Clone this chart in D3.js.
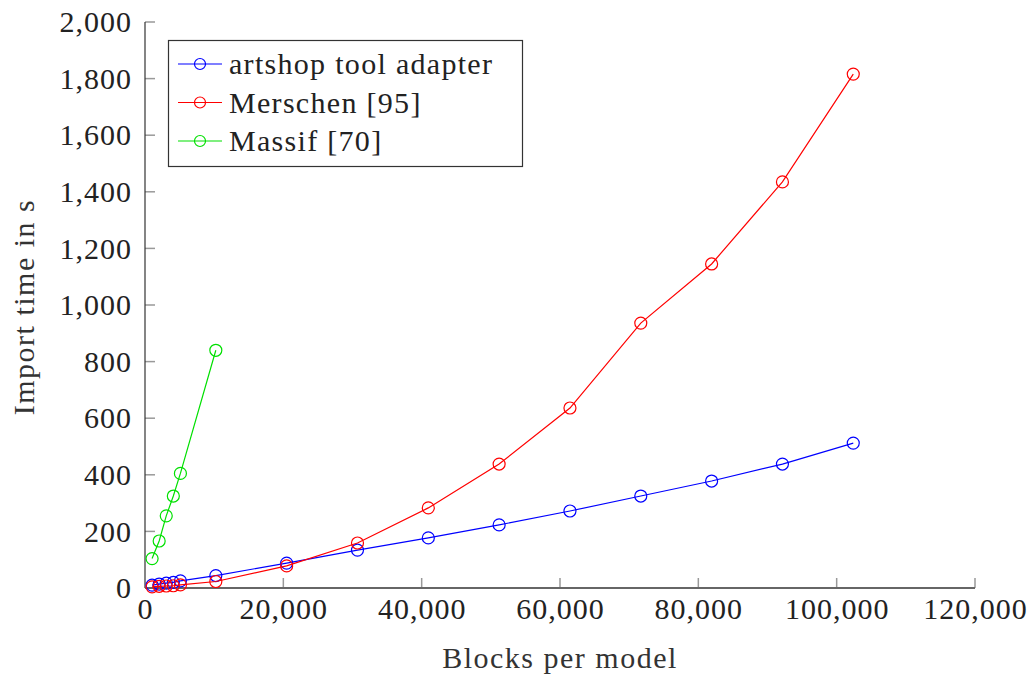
<!DOCTYPE html>
<html><head><meta charset="utf-8">
<script src="https://cdn.jsdelivr.net/npm/d3@7"></script>
<style>body{margin:0;background:#fff;} svg{display:block;}
svg text{font-family:'Liberation Serif','DejaVu Serif','Noto Serif',Tinos,FreeSerif,'Times New Roman',Times,Georgia,serif !important;}</style>
</head><body>
<svg id="chart" width="1029" height="677"></svg>
<script>
const blocks = [1024, 2048, 3072, 4096, 5120, 10240, 20480, 30720, 40960, 51200, 61440, 71680, 81920, 92160, 102400];
const artshop = [10, 14, 17, 20, 25, 44, 88, 134, 177, 223, 272, 325, 378, 438, 512];
const merschen = [4, 6, 7, 8, 11, 23, 78, 159, 283, 438, 636, 936, 1145, 1435, 1816];
const massifBlocks = [1024, 2048, 3072, 4096, 5120, 10240];
const massif = [104, 166, 255, 325, 405, 840];
const xTicks = [0, 20000, 40000, 60000, 80000, 100000, 120000];
const yTicks = [0, 200, 400, 600, 800, 1000, 1200, 1400, 1600, 1800, 2000];
const seriesNames = ["artshop tool adapter", "Merschen [95]", "Massif [70]"];
const seriesColors = ["#0000ff", "#ff0000", "#00e000"];

const svg = d3.select("#chart");
const x = d3.scaleLinear().domain([0, 120000]).range([145, 975]);
const y = d3.scaleLinear().domain([0, 2000]).range([588, 22]);
const fmt = d3.format(",");

const yAxis = svg.append("g").attr("transform", `translate(${x(0)},0)`)
  .call(d3.axisLeft(y).tickValues(yTicks).tickSize(0).tickPadding(13).tickFormat(fmt));
yAxis.attr("font-family", null);
yAxis.select(".domain").remove();
yAxis.selectAll("text").attr("font-size", 30).attr("fill", "#222").attr("letter-spacing", 1);
svg.append("g").selectAll("line").data(yTicks.slice(1)).join("line")
  .attr("x1", x(0)).attr("x2", x(0) + 10).attr("y1", d => y(d)).attr("y2", d => y(d))
  .attr("stroke", "#999").attr("stroke-width", 1.5);

const xAxis = svg.append("g").attr("transform", `translate(0,${y(0)})`)
  .call(d3.axisBottom(x).tickValues(xTicks).tickSize(0).tickPadding(10).tickFormat(fmt));
xAxis.attr("font-family", null);
xAxis.select(".domain").remove();
xAxis.selectAll("text").attr("font-size", 30).attr("fill", "#222").attr("dy", "0.71em").attr("letter-spacing", 1);
svg.append("g").selectAll("line").data(xTicks.slice(1)).join("line")
  .attr("x1", d => x(d)).attr("x2", d => x(d)).attr("y1", y(0)).attr("y2", y(0) - 10)
  .attr("stroke", "#999").attr("stroke-width", 1.5);

svg.append("line").attr("x1", x(0)).attr("x2", x(0)).attr("y1", y(0)).attr("y2", y(2000))
  .attr("stroke", "#333").attr("stroke-width", 1.2);
svg.append("line").attr("x1", x(0)).attr("x2", x(120000)).attr("y1", y(0)).attr("y2", y(0))
  .attr("stroke", "#666").attr("stroke-width", 2);

svg.append("text").attr("x", 560).attr("y", 668).attr("text-anchor", "middle")
  .attr("font-size", 30).attr("fill", "#333").attr("letter-spacing", 1.5).text("Blocks per model");
svg.append("text").attr("transform", "translate(34,307) rotate(-90)").attr("text-anchor", "middle")
  .attr("font-size", 30).attr("fill", "#333").attr("letter-spacing", 1.5).text("Import time in s");

const series = [
  {xs: blocks, ys: artshop},
  {xs: blocks, ys: merschen},
  {xs: massifBlocks, ys: massif}
];
const line = d3.line().x(d => x(d[0])).y(d => y(d[1]));
series.forEach((s, i) => {
  const pts = s.xs.map((v, j) => [v, s.ys[j]]);
  const g = svg.append("g");
  g.append("path").attr("d", line(pts)).attr("fill", "none")
    .attr("stroke", seriesColors[i]).attr("stroke-width", 1.2);
  g.selectAll("circle").data(pts).join("circle")
    .attr("cx", d => x(d[0])).attr("cy", d => y(d[1])).attr("r", 6)
    .attr("fill", "none").attr("stroke", seriesColors[i]).attr("stroke-width", 1.2);
});

const lg = svg.append("g");
lg.append("rect").attr("x", 168.5).attr("y", 40.5).attr("width", 354).attr("height", 126)
  .attr("fill", "#fff").attr("stroke", "#333").attr("stroke-width", 1.2);
seriesNames.forEach((n, i) => {
  const cy = 64 + i * 38.5;
  lg.append("line").attr("x1", 178).attr("x2", 222).attr("y1", cy).attr("y2", cy)
    .attr("stroke", seriesColors[i]).attr("stroke-width", 1.2);
  lg.append("circle").attr("cx", 200).attr("cy", cy).attr("r", 5.5).attr("fill", "none")
    .attr("stroke", seriesColors[i]).attr("stroke-width", 1.2);
  lg.append("text").attr("x", 229).attr("y", cy + 10)
    .attr("font-size", 30).attr("fill", "#222").attr("letter-spacing", 1.3).text(n);
});
</script>
</body></html>
